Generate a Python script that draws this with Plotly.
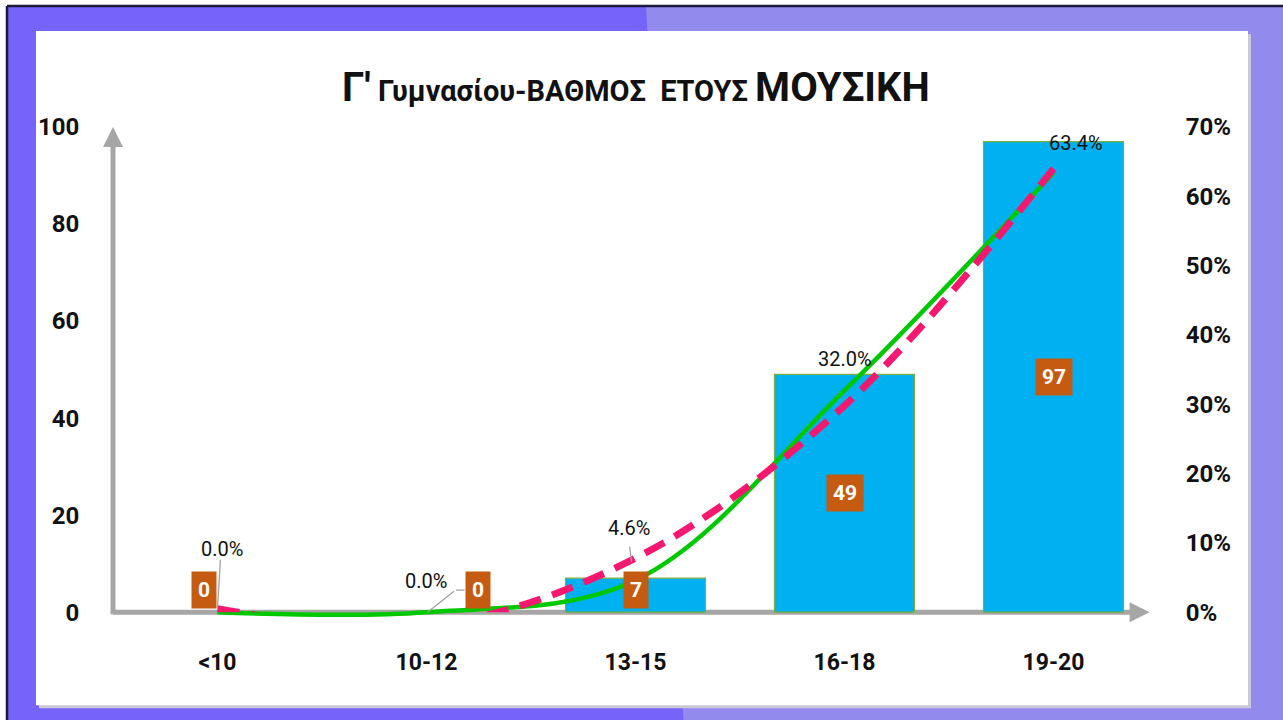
import plotly.graph_objects as go

# ---------------- data ----------------
categories = ["<10", "10-12", "13-15", "16-18", "19-20"]
counts = [0, 0, 7, 49, 97]
percents = [0.0, 0.0, 0.046, 0.320, 0.634]
trend_values = [0.005, -0.020, 0.078, 0.298, 0.640]   # dashed trend line
left_ticks = [0, 20, 40, 60, 80, 100]
right_ticks = [0.0, 0.1, 0.2, 0.3, 0.4, 0.5, 0.6, 0.7]

# ---------------- styles ----------------
FONT = "Liberation Sans Narrow, Roboto, sans-serif"
AXIS_GRAY = "#A6A6A6"
BAR_BLUE = "#00B0F0"
BOX_ORANGE = "#C55A11"
GREEN = "#00C800"
PINK = "#F5186F"

W, H = 1283, 720
Y_LOW = -1.2                       # a little room below zero so the line at 0 is not clipped
PX_PER_UNIT = 485 / 100
ML, MR, MT = 113, 125, 127
MB = 108 + Y_LOW * PX_PER_UNIT     # keeps the value 0 at the same pixel row


def px_x(px):
    return (px - ML) / (W - ML - MR)


def px_y(py):
    return (H - MB - py) / (H - MT - MB)


fig = go.Figure()

fig.add_trace(go.Bar(
    x=categories, y=counts, width=0.67,
    marker=dict(color=BAR_BLUE,
                line=dict(color="#7DAF3C", width=[1.2 if v else 0 for v in counts])),
    yaxis="y", hoverinfo="skip", showlegend=False,
))
fig.add_trace(go.Scatter(
    x=categories, y=percents, mode="lines", yaxis="y2",
    line=dict(color=GREEN, width=4.5, shape="spline", smoothing=1.0),
    hoverinfo="skip", showlegend=False,
))
# trend line lives in its own (identically scaled) subplot so it is clipped at 0%
fig.add_trace(go.Scatter(
    x=categories, y=trend_values, mode="lines", xaxis="x2", yaxis="y4",
    line=dict(color=PINK, width=7, shape="spline", smoothing=1.0, dash="22px,12px"),
    hoverinfo="skip", showlegend=False,
))

shapes = [
    dict(type="rect", xref="paper", yref="paper", layer="below",
         x0=px_x(7), x1=px_x(1300), y0=px_y(730), y1=px_y(6),
         fillcolor="#7563FA", line=dict(width=0)),
    dict(type="path", xref="paper", yref="paper", layer="below",
         path=f"M {px_x(646)} {px_y(6)} L {px_x(1300)} {px_y(6)} L {px_x(1300)} {px_y(730)} L {px_x(684)} {px_y(730)} Z",
         fillcolor="#938AEE", line=dict(width=0)),
    dict(type="line", xref="paper", yref="paper", layer="below",
         x0=px_x(7), x1=px_x(7), y0=px_y(6), y1=px_y(730),
         line=dict(color="#1C1A3A", width=2.5)),
    dict(type="line", xref="paper", yref="paper", layer="below",
         x0=px_x(7), x1=px_x(1300), y0=px_y(6), y1=px_y(6),
         line=dict(color="#1C1A3A", width=2.5)),
    dict(type="rect", xref="paper", yref="paper", layer="below",
         x0=px_x(39), x1=px_x(1251), y0=px_y(708), y1=px_y(34),
         fillcolor="#C9C9D6", line=dict(width=0)),
    dict(type="rect", xref="paper", yref="paper", layer="below",
         x0=px_x(36), x1=px_x(1248), y0=px_y(705), y1=px_y(31),
         fillcolor="white", line=dict(width=0)),
    # x axis shaft (beneath the traces)
    dict(type="line", xref="paper", yref="paper", layer="below",
         x0=px_x(113), x1=px_x(1142), y0=px_y(612), y1=px_y(612), line=dict(color=AXIS_GRAY, width=5)),
    # y axis shaft
    dict(type="line", xref="paper", yref="paper", layer="above",
         x0=0, x1=0, y0=px_y(614), y1=px_y(138), line=dict(color=AXIS_GRAY, width=5)),
]

annotations = []
# arrow heads
annotations.append(dict(x=-0.5, y=100, xref="x", yref="y", ax=0, ay=14,
                        text="", showarrow=True, arrowhead=2, arrowsize=0.8, arrowwidth=5,
                        arrowcolor=AXIS_GRAY, standoff=0, startstandoff=0))
annotations.append(dict(x=4.46, y=0, xref="x", yref="y", ax=-14, ay=0,
                        text="", showarrow=True, arrowhead=2, arrowsize=0.8, arrowwidth=5,
                        arrowcolor=AXIS_GRAY, standoff=0, startstandoff=0))

# count boxes
box_xshift = [-14, 51, 0, 0, 0]
for i, (c, v) in enumerate(zip(categories, counts)):
    annotations.append(dict(x=c, y=max(v / 2, 4.6), xref="x", yref="y", text=f"<b>{v}</b>",
                            showarrow=False, bgcolor=BOX_ORANGE, borderpad=6, xshift=box_xshift[i],
                            font=dict(family=FONT, size=21, color="white")))

# percent labels
pct_xshift = [4, -1, -7, 0, 22]
pct_yshift = [63, 31, 52, 31, 30]
for i, (c, p) in enumerate(zip(categories, percents)):
    annotations.append(dict(x=c, y=p, xref="x", yref="y2", text=f"{p*100:.1f}%",
                            showarrow=False, xshift=pct_xshift[i], yshift=pct_yshift[i],
                            font=dict(family=FONT, size=20, color="#111111")))

# leader lines
leaders = [  # (category index, xshift, yshift, ax, ay)
    (0, 0, 4, 3, -50),
    (1, 1, 0, 28, -22),
    (1, 38, 22, -10, 0),
    (2, -4, 18, -2, -17),
]
for idx, xs, ys, ax, ay in leaders:
    annotations.append(dict(x=categories[idx], y=percents[idx], xref="x", yref="y2",
                            text="", showarrow=True, arrowhead=0, arrowwidth=1.3,
                            arrowcolor="#A0A0A0", ax=ax, ay=ay, xshift=xs, yshift=ys,
                            standoff=0, startstandoff=0))

title_html = ("<span style='font-size:40px'>Γ'</span> "
              "<span style='font-size:29px'>Γυμνασίου-ΒΑΘΜΟΣ&nbsp; ΕΤΟΥΣ</span> "
              "<span style='font-size:40px'>ΜΟΥΣΙΚΗ</span>")
annotations.append(dict(x=0.5, y=px_y(88), xref="paper", yref="paper", text=title_html,
                        yanchor="middle", xanchor="center",
                        showarrow=False, font=dict(family=FONT, size=29, color="#111111", weight="bold")))

tick_font = dict(family=FONT, size=24, color="#111111", weight="bold")

fig.update_layout(
    width=W, height=H,
    margin=dict(l=ML, r=MR, t=MT, b=MB),
    paper_bgcolor="white", plot_bgcolor="rgba(0,0,0,0)",
    showlegend=False,
    shapes=shapes, annotations=annotations,
    xaxis=dict(type="category", categoryarray=categories, range=[-0.5, 4.5],
               showline=False, showgrid=False, zeroline=False,
               ticks="outside", ticklen=23, tickcolor="rgba(0,0,0,0)",
               tickfont=dict(family=FONT, size=23, color="#111111", weight="bold")),
    yaxis=dict(range=[Y_LOW, 100], tickvals=left_ticks, showline=False, zeroline=False,
               showgrid=False,
               ticks="outside", ticklen=28, tickcolor="rgba(0,0,0,0)", tickfont=tick_font),
    yaxis2=dict(range=[Y_LOW * 0.007, 0.7], tickvals=right_ticks, tickformat=".0%",
                overlaying="y", side="right",
                showline=False, showgrid=False, zeroline=False,
                ticks="outside", ticklen=22, tickcolor="rgba(0,0,0,0)", tickfont=tick_font),
    # gridlines only (no line at zero, where the axis arrow sits)
    yaxis3=dict(range=[Y_LOW, 100], tickvals=left_ticks[1:], overlaying="y", side="left",
                showticklabels=False, showline=False, zeroline=False, ticks="",
                showgrid=True, gridcolor="#D9D9D9", gridwidth=1.6),
    # hidden subplot for the trend line, 0%..70% over the same pixel rows
    xaxis2=dict(type="category", categoryarray=categories, range=[-0.5, 4.5], domain=[0, 1],
                anchor="y4", visible=False),
    yaxis4=dict(range=[0, 0.7], domain=[px_y(612), 1], anchor="x2", visible=False),
)

fig.write_html("out.html", config={"displayModeBar": False},
               post_script="document.body.style.margin='0';")
